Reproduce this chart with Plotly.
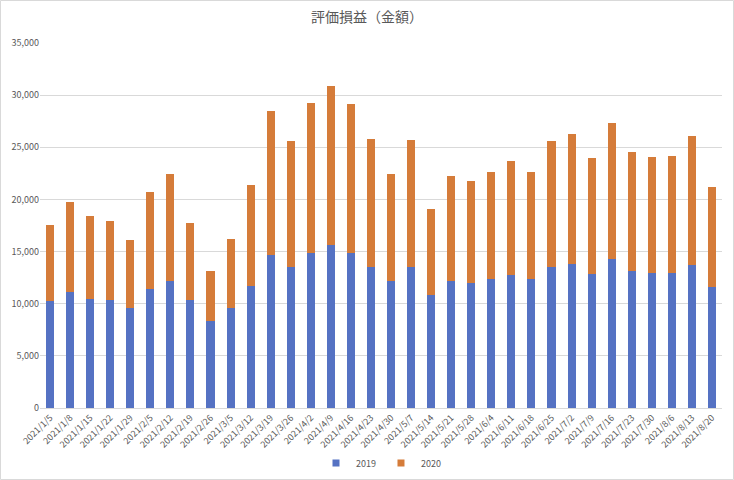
import plotly.graph_objects as go

categories = ["2021/1/5", "2021/1/8", "2021/1/15", "2021/1/22", "2021/1/29", "2021/2/5",
              "2021/2/12", "2021/2/19", "2021/2/26", "2021/3/5", "2021/3/12", "2021/3/19",
              "2021/3/26", "2021/4/2", "2021/4/9", "2021/4/16", "2021/4/23", "2021/4/30",
              "2021/5/7", "2021/5/14", "2021/5/21", "2021/5/28", "2021/6/4", "2021/6/11",
              "2021/6/18", "2021/6/25", "2021/7/2", "2021/7/9", "2021/7/16", "2021/7/23",
              "2021/7/30", "2021/8/6", "2021/8/13", "2021/8/20"]

values_2019 = [10230, 11090, 10480, 10380, 9620, 11440, 12210, 10320, 8370, 9620, 11730, 14640,
               13480, 14890, 15600, 14890, 13550, 12210, 13480, 10800, 12140, 11950, 12340, 12720,
               12340, 13480, 13770, 12820, 14250, 13100, 12910, 12910, 13680, 11630]

totals = [17580, 19790, 18440, 17960, 16140, 20750, 22470, 17770, 13170, 16240, 21420, 28510,
          25640, 29280, 30840, 29180, 25830, 22470, 25730, 19110, 22280, 21800, 22660, 23720,
          22660, 25640, 26310, 24010, 27360, 24580, 24100, 24200, 26110, 21230]

values_2020 = [t - b for t, b in zip(totals, values_2019)]

y_ticks = [0, 5000, 10000, 15000, 20000, 25000, 30000, 35000]

BLUE = "#5572C3"
ORANGE = "#D57C3A"
TEXT = "#595959"

fig = go.Figure()
fig.add_trace(go.Bar(x=categories, y=values_2019, name="2019", legendgroup="2019", showlegend=False,
                     marker=dict(color=BLUE, line=dict(width=0))))
fig.add_trace(go.Bar(x=categories, y=values_2020, name="2020", legendgroup="2020", showlegend=False,
                     marker=dict(color=ORANGE, line=dict(width=0))))
# legend entries with small square swatches
for name, color in (("2019", BLUE), ("2020", ORANGE)):
    fig.add_trace(go.Scatter(x=[None], y=[None], mode="markers", name=name, legendgroup=name,
                             marker=dict(symbol="square", size=7, color=color), hoverinfo="skip"))

L, R, T, B = 40, 12, 43, 72
W, H = 734, 480
pw = W - L - R
ph = H - T - B

fig.update_layout(
    width=W, height=H,
    barmode="stack", bargap=0.6,
    margin=dict(l=L, r=R, t=T, b=B, pad=0, autoexpand=False),
    paper_bgcolor="white", plot_bgcolor="white",
    font=dict(family="Noto Sans CJK JP, Noto Sans, sans-serif", size=9, color=TEXT),
    title=dict(text="評価損益（金額）", x=0.5, xanchor="center", y=1 - 17 / H, yanchor="middle",
               font=dict(family="Noto Sans CJK JP", size=14, color=TEXT)),
    xaxis=dict(type="category", tickangle=-45, showgrid=False, showline=True, automargin=False,
               linecolor="#d9d9d9", linewidth=1, ticks="", tickfont=dict(size=9, color=TEXT)),
    yaxis=dict(range=[0, 35000], tickvals=y_ticks, tickformat=",d", showgrid=True, automargin=False,
               gridcolor="#d9d9d9", gridwidth=1, zeroline=False, showline=False, ticks="",
               tickfont=dict(size=9, color=TEXT)),
    legend=dict(orientation="h", x=0.5, xanchor="center", y=-(463 - (T + ph)) / ph, yanchor="middle",
                font=dict(size=9, color=TEXT), itemwidth=30, traceorder="normal",
                tracegroupgap=0, itemclick=False, itemdoubleclick=False),
    showlegend=True,
)

fig.add_shape(type="rect", xref="paper", yref="paper",
              x0=-(L - 0.5) / pw, x1=1 + (R - 0.5) / pw,
              y0=-(B - 0.5) / ph, y1=1 + (T - 0.5) / ph,
              line=dict(color="#d9d9d9", width=1), fillcolor="rgba(0,0,0,0)", layer="below")

fig.write_html("out.html", config={"displayModeBar": False},
               post_script="document.body.style.margin='0';document.body.style.overflow='hidden';")
